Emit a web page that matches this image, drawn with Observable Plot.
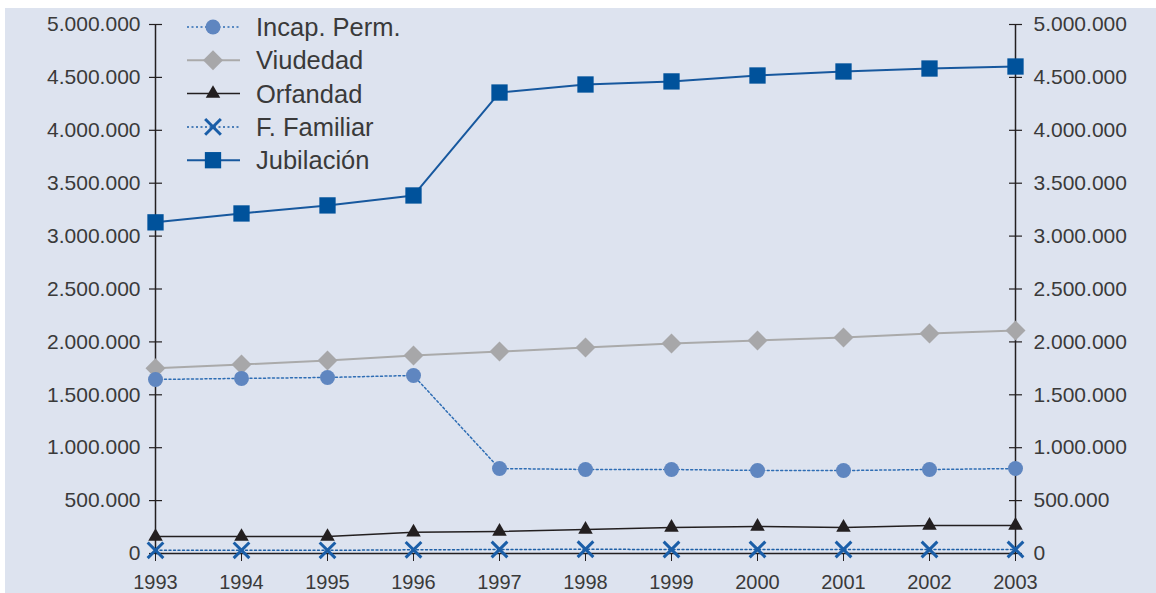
<!DOCTYPE html>
<html>
<head>
<meta charset="utf-8">
<script src="https://cdn.jsdelivr.net/npm/d3@7"></script>
<script src="https://cdn.jsdelivr.net/npm/@observablehq/plot@0.6"></script>
<style>
  html, body { margin: 0; padding: 0; background: #ffffff; }
  #wrap { position: relative; width: 1156px; height: 593px; overflow: hidden; }
  #bg { position: absolute; left: 5px; top: 8px; right: 0; bottom: 0; background: #dde3ef; }
  #chart { position: absolute; left: 0; top: 0; }
  #legend { position: absolute; left: 0; top: 0; }
  svg { font-family: "Liberation Sans", Arial, Helvetica, sans-serif; }
</style>
</head>
<body>
<div id="wrap"><div id="bg"></div><div id="chart"></div><svg id="legend" width="420" height="180"></svg></div>
<script>
const years = [1993, 1994, 1995, 1996, 1997, 1998, 1999, 2000, 2001, 2002, 2003];
const jubilacion = [3130000, 3214000, 3290000, 3384000, 4357000, 4433000, 4462000, 4518000, 4556000, 4584000, 4603000];
const viudedad   = [1750000, 1786000, 1824000, 1871000, 1909000, 1947000, 1985000, 2014000, 2042000, 2079000, 2108000];
const incapPerm  = [1645000, 1655000, 1664000, 1683000, 803000, 794000, 794000, 785000, 784000, 794000, 803000];
const orfandad   = [160000, 160000, 160000, 201000, 208000, 227000, 246000, 255000, 246000, 265000, 265000];
const fFamiliar  = [30000, 30000, 30000, 35000, 38000, 40000, 38000, 38000, 38000, 38000, 38000];
const yTicks = [0, 500000, 1000000, 1500000, 2000000, 2500000, 3000000, 3500000, 4000000, 4500000, 5000000];

const series = [
  {name: "Incap. Perm.", values: incapPerm, line: "#2e6db4", width: 1.5, dash: "2,2.5", symbol: "circle", fill: "#5f86c0", stroke: "none", r: 7.5, sw: 0},
  {name: "Viudedad", values: viudedad, line: "#aaaaaa", width: 2, dash: null, symbol: "diamond2", fill: "#a7a7a9", stroke: "none", r: 9, sw: 0},
  {name: "Orfandad", values: orfandad, line: "#231f20", width: 1.5, dash: null, symbol: "triangle", fill: "#231f20", stroke: "none", r: 5.4, sw: 0},
  {name: "F. Familiar", values: fFamiliar, line: "#1d5fa6", width: 1.5, dash: "2,2.5", symbol: "times", fill: "none", stroke: "#1a5ea8", r: 7.2, sw: 3},
  {name: "Jubilación", values: jubilacion, line: "#17589e", width: 2, dash: null, symbol: "square", fill: "#00529b", stroke: "none", r: 9.2, sw: 0}
];
const drawOrder = ["Viudedad", "Incap. Perm.", "Orfandad", "F. Familiar", "Jubilación"];

const fmt = d => d3.format(",")(d).replace(/,/g, ".");
const first = years[0], last = years[years.length - 1];

const marks = [
  Plot.ruleX([first, last], {stroke: "#231f20", strokeWidth: 1.5}),
  Plot.ruleY([0], {stroke: "#231f20", strokeWidth: 1.5}),
  Plot.ruleY(yTicks, {y: d => d, x1: first, x2: first, insetLeft: -6, insetRight: -7, stroke: "#231f20", strokeWidth: 1.2}),
  Plot.ruleY(yTicks, {y: d => d, x1: last, x2: last, insetLeft: -6, insetRight: -7, stroke: "#231f20", strokeWidth: 1.2}),
  Plot.axisY({anchor: "left", ticks: yTicks, tickSize: 0, tickPadding: 15, tickFormat: fmt, label: null, fontSize: 21, fill: "#3a3a3a"}),
  Plot.axisY({anchor: "right", ticks: yTicks, tickSize: 0, tickPadding: 18, tickFormat: fmt, label: null, fontSize: 21, fill: "#3a3a3a"}),
  Plot.axisX({ticks: years, tickSize: 8, tickPadding: 13, tickFormat: d => String(d), label: null, fontSize: 20, fill: "#3a3a3a", stroke: "#231f20"})
];

for (const nm of drawOrder) {
  const s = series.find(t => t.name === nm);
  const data = years.map((y, i) => ({year: y, value: s.values[i]}));
  marks.push(Plot.line(data, {x: "year", y: "value", stroke: s.line, strokeWidth: s.width, strokeDasharray: s.dash || undefined}));
}
for (const nm of drawOrder) {
  const s = series.find(t => t.name === nm);
  const data = years.map((y, i) => ({year: y, value: s.values[i]}));
  marks.push(Plot.dot(data, {x: "year", y: "value", symbol: s.symbol, r: s.r, fill: s.fill, stroke: s.stroke, strokeWidth: s.sw}));
}

const chart = Plot.plot({
  width: 1156,
  height: 593,
  marginLeft: 155,
  marginRight: 141,
  marginTop: 24,
  marginBottom: 40,
  style: {background: "transparent", fontFamily: "'Liberation Sans', Arial, Helvetica, sans-serif", overflow: "visible"},
  x: {domain: [first, last], axis: null},
  y: {domain: [0, 5000000], axis: null},
  marks
});
document.getElementById("chart").appendChild(chart);

// Legend
const symMap = {circle: d3.symbolCircle, diamond2: d3.symbolDiamond2, triangle: d3.symbolTriangle, times: d3.symbolTimes, square: d3.symbolSquare};
const leg = d3.select("#legend");
series.forEach((s, i) => {
  const cy = 27 + i * 33.3;
  const g = leg.append("g").attr("transform", `translate(0,${cy})`);
  g.append("line").attr("x1", 187).attr("x2", 240).attr("y1", 0).attr("y2", 0)
    .attr("stroke", s.line).attr("stroke-width", s.width).attr("stroke-dasharray", s.dash);
  g.append("path").attr("transform", "translate(213,0)")
    .attr("d", d3.symbol(symMap[s.symbol], Math.PI * s.r * s.r)())
    .attr("fill", s.fill).attr("stroke", s.stroke).attr("stroke-width", s.sw);
  g.append("text").attr("x", 256).attr("y", 0).attr("dy", "0.36em")
    .attr("font-size", 25.5).attr("fill", "#3a3a3a").text(s.name);
});
</script>
</body>
</html>
